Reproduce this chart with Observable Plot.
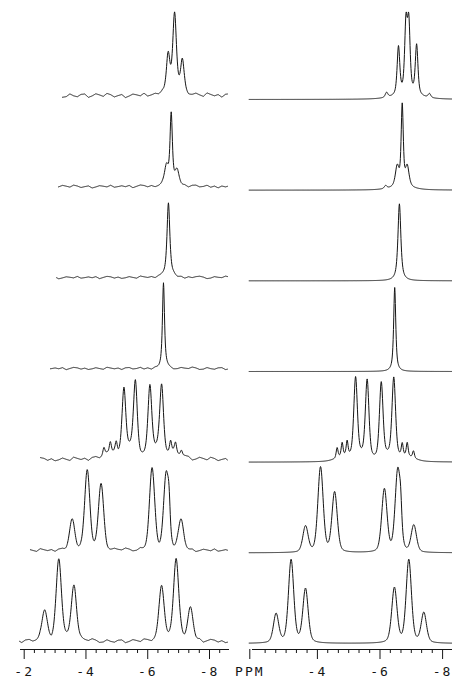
<!DOCTYPE html>
<html><head><meta charset="utf-8">
<script src="https://cdn.jsdelivr.net/npm/d3@7"></script>
<script src="https://cdn.jsdelivr.net/npm/@observablehq/plot@0.6"></script>
<style>
html,body{margin:0;padding:0;background:#fff;}
#wrap{display:flex;width:452px;height:679px;overflow:hidden;background:#fff;}
#wrap svg text{letter-spacing:2px;}
</style></head><body><div id="wrap"></div>
<script>
// ---- data (chemical shift in ppm, intensity, half-width) ----
// Left panel: observed spectra, top to bottom
const expPeaks = [
  [[-6.66,40,0.07],[-6.87,78,0.07],[-7.12,34,0.07]],
  [[-6.76,70,0.045],[-6.61,20,0.08],[-6.95,15,0.08]],
  [[-6.67,75,0.055]],
  [[-6.51,85,0.04]],
  [[-5.23,66,0.072],[-5.60,72,0.072],[-6.07,68,0.072],[-6.45,68,0.072],
   [-4.58,8,0.04],[-4.79,12,0.04],[-4.98,11,0.04],[-6.74,12,0.04],[-6.90,10,0.04],[-7.09,6,0.04],
   [-4.85,5,0.3],[-5.45,6,0.2],[-6.25,6,0.2],[-6.85,5,0.3]],
  [[-3.55,30,0.1],[-4.04,80,0.1],[-4.49,65,0.1],[-6.14,81,0.1],[-6.60,76,0.1],[-6.69,20,0.04],[-7.08,30,0.1]],
  [[-2.66,31,0.1],[-3.12,82,0.1],[-3.61,57,0.1],[-6.45,56,0.1],[-6.92,82,0.1],[-7.38,33,0.1]]
];
const expEta = [0.6,0.6,0.8,0.8,0.5,0.25,0.35];
const expStart = [-3.24,-3.11,-3.05,-2.85,-2.53,-2.2,-1.85];
const expEnd = -8.58;
const expNoise = [1.2,0.8,0.7,0.7,1.1,0.9,1.0];
// baseline wiggle of the recorded traces, estimated by eye (one value per 0.12 ppm)
const wiggle = [0.5,-0.6,0.9,1.6,0.4,-1.8,-0.9,1.1,0.2,-0.3,1.9,0.7,-1.5,-1.0,1.3,-0.3,-1.1,0.9,1.2,-1.6,
  -0.4,1.4,0.4,-0.8,1.7,0.6,-1.3,-0.2,0.7,-1.9,-0.6,1.0,0.3,-0.6,1.5,-1.0,-0.2,0.8,-0.4,1.2,
  -1.7,0.0,1.6,0.9,-0.9,0.5,-1.4,-0.5,1.1,-0.1,-1.2,1.8,0.6,-0.5,0.6,-1.5,0.9,1.3,-0.8,-0.2,
  1.4,-1.1,0.4,-1.8];

// Right panel: simulated spectra, top to bottom
const simPeaks = [
  [[-6.59,48,0.05],[-6.83,68,0.05],[-6.92,68,0.05],[-7.17,50,0.05],[-6.21,5,0.05],[-7.58,4,0.05],[-6.88,4,0.5]],
  [[-6.71,80,0.04],[-6.55,20,0.07],[-6.87,20,0.07],[-6.18,3,0.05],[-6.70,3,0.4]],
  [[-6.62,77,0.055]],
  [[-6.47,84,0.04]],
  [[-5.22,80,0.068],[-5.59,78,0.068],[-6.04,76,0.068],[-6.44,80,0.068],
   [-4.63,10,0.035],[-4.79,13,0.035],[-4.95,14,0.035],[-6.71,12,0.035],[-6.87,13,0.035],[-7.07,7,0.035],
   [-4.85,5,0.3],[-5.42,4,0.2],[-6.25,4,0.2],[-6.85,5,0.3]],
  [[-3.62,26,0.1],[-4.10,85,0.1],[-4.55,60,0.1],[-6.14,63,0.1],[-6.57,83,0.1],[-6.66,18,0.04],[-7.08,27,0.1]],
  [[-2.68,29,0.1],[-3.16,83,0.1],[-3.62,54,0.1],[-6.46,55,0.1],[-6.92,83,0.1],[-7.40,30,0.1]]
];
const simEta = [0.6,0.6,0.8,0.8,0.45,0.3,0.35];
const simStart = -1.82;
const simEnd = -8.45;

// axis ticks
const majorTicks = [-2,-4,-6,-8];
const expTickLabels = ["-2","-4","-6","-8"];
const simTickLabels = ["PPM","-4","-6","-8"];
const minorTicks = [-2.33,-2.67,-3,-3.33,-3.67,-4.33,-4.67,-5,-5.33,-5.67,-6.33,-6.67,-7,-7.33,-7.67,-8.33];

// ---- build traces (peak line shapes) ----
function lineShape(peaks, eta, p) {
  let s = 0;
  for (const [c, h, w] of peaks) {
    const u = (p - c) / w;
    s += h * (eta / (1 + u * u) + (1 - eta) * Math.exp(-Math.LN2 * u * u));
  }
  return s;
}
function wig(p, off) {
  const t = (-p - 1.8) / 0.12 + off;
  const n = wiggle.length;
  const i0 = Math.floor(t), f = t - i0;
  const a = wiggle[((i0 % n) + n) % n], b = wiggle[(((i0 + 1) % n) + n) % n];
  return a + (b - a) * f;
}
function buildRows(peaksList, etaList, starts, end, step, noiseAmp) {
  const rows = [];
  peaksList.forEach((peaks, k) => {
    const offset = (peaksList.length - 1 - k) * step;
    const start = Array.isArray(starts) ? starts[k] : starts;
    const n = Math.round((start - end) / 0.01);
    for (let i = 0; i <= n; i++) {
      const p = start - i * 0.01;
      let y = offset + lineShape(peaks, etaList[k], p);
      if (noiseAmp) y += noiseAmp[k] * wig(p, k * 9);
      rows.push({trace: k, ppm: p, y});
    }
  });
  return rows;
}
const expRows = buildRows(expPeaks, expEta, expStart, expEnd, 91, expNoise);
const simRows = buildRows(simPeaks, simEta, simStart, simEnd, 90.67, null);

const font = {fontFamily: "'DejaVu Sans Mono', monospace", fontSize: "13px", background: "#fff", color: "#151515"};

function panel(rows, width, mL, mR, xRange, base, labels) {
  const lab = new Map(majorTicks.map((d, i) => [d, labels[i]]));
  const common = {tickPadding: 7, fontSize: 13, stroke: "#151515", fill: "#151515", label: null};
  return Plot.plot({
    width, height: 679, marginLeft: mL, marginRight: mR, marginTop: 0, marginBottom: 30,
    style: font,
    x: {domain: [-2, -8], range: xRange, axis: null, label: null},
    y: {domain: [0, 700], range: [base, base - 700], axis: null, label: null},
    marks: [
      Plot.line(rows, {x: "ppm", y: "y", z: "trace", stroke: "#151515", strokeWidth: 1}),
      Plot.frame({anchor: "bottom", stroke: "#151515"}),
      Plot.axisX({ticks: minorTicks, tickSize: 4, tickFormat: () => "", stroke: "#151515", label: null}),
      Plot.axisX({...common, ticks: [-2], tickSize: 10, tickFormat: d => lab.get(d), dx: labels[0] === "PPM" ? -5 : 0}),
      Plot.axisX({...common, ticks: [-4, -6, -8], tickSize: 10, tickFormat: d => lab.get(d)})
    ]
  });
}

const wrap = document.getElementById("wrap");
wrap.append(panel(expRows, 232, 20, 4, [23.7, 209.0], 641, expTickLabels));
wrap.append(panel(simRows, 220, 20, 0, [22.3, 210.1], 643, simTickLabels));
</script></body></html>
